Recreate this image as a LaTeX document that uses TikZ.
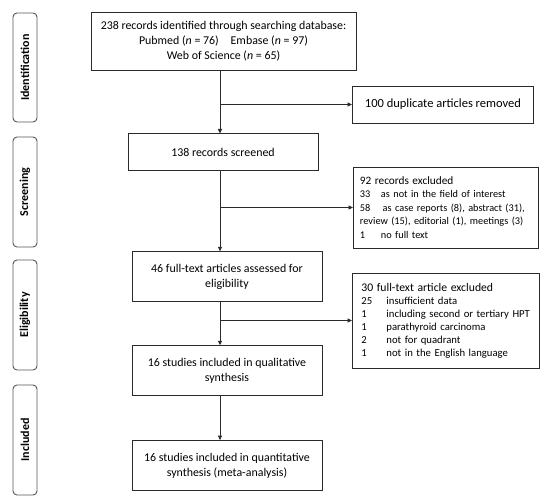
\documentclass[tikz,border=0pt]{standalone}
\usepackage{fontspec}
\setmainfont{Carlito}
\usetikzlibrary{arrows.meta,positioning}
\definecolor{cInk}{HTML}{2B2B2B}
\definecolor{cSide}{HTML}{555555}
\tikzset{
  x=1pt, y=-1pt,
  stage/.style={rounded corners=4pt, draw=cSide, line width=0.9pt, fill=white, minimum width=24pt, inner sep=0pt},
  stagetxt/.style={rotate=90, font=\bfseries\fontsize{12}{14}\selectfont},
  mbox/.style={draw=cInk, line width=0.9pt, fill=white, align=center, inner sep=2pt, minimum width=190pt, minimum height=50pt, font=\fontsize{11.9}{14.8}\selectfont},
  xbox/.style={draw=cInk, line width=0.9pt, fill=white, align=left, inner xsep=6.5pt, text width=#1, font=\fontsize{10.3}{13.5}\selectfont},
  flow/.style={-{Triangle[length=4.5pt,width=4pt]}, line width=0.9pt, draw=cInk},
}
\newcommand{\nr}[2][21pt]{\makebox[#1][l]{#2}}
\begin{document}
\begin{tikzpicture}
\useasboundingbox (0,0) rectangle (550,499);
% stages
\node[stage, minimum height=109pt] (sid) at (25,67.5) {};
\node[stagetxt] at (sid) {Identification};
\node[stage, minimum height=110pt] (ssc) at (25,192) {};
\node[stagetxt] at (ssc) {Screening};
\node[stage, minimum height=110pt] (sel) at (25,315) {};
\node[stagetxt] at (sel) {Eligibility};
\node[stage, minimum height=110pt] (sin) at (25,440) {};
\node[stagetxt] at (sin) {Included};
% main column
\node[mbox, minimum width=265pt, minimum height=58pt] (rec) at (223.5,41) {238 records identified through searching database:\\Pubmed (\textit{n} = 76)\quad Embase (\textit{n} = 97)\\Web of Science (\textit{n} = 65)};
\node[mbox, minimum height=37pt, below=63pt of rec, xshift=-0.5pt] (scr) {138 records screened};
\node[mbox, below=80pt of scr, xshift=4pt] (full) {46 full-text articles assessed for\\eligibility};
\node[mbox, below=43pt of full] (qual) {16 studies included in qualitative\\synthesis};
\node[mbox, below=44pt of qual] (quan) {16 studies included in quantitative\\synthesis (meta-analysis)};
% exclusions
\node[draw=cInk, line width=0.9pt, minimum width=181pt, minimum height=37pt, font=\fontsize{12.5}{14}\selectfont, anchor=west] (dup) at (352,104.5) {100 duplicate articles removed};
\node[xbox=172pt, anchor=west, minimum height=81pt] (ex1) at (353,207.5) {{\fontsize{11.3}{13.5}\selectfont 92 records excluded}\\\nr{33}as not in the field of interest\\\mbox{\nr{58}\,as case reports (8), abstract (31),}\\\mbox{review (15), editorial (1), meetings (3)}\\\nr{1}no full text};
\node[xbox=169pt, inner xsep=9pt, anchor=west, minimum height=95pt, font=\fontsize{10.7}{13}\selectfont] (ex2) at (352,320.5) {{\fontsize{11.7}{13}\selectfont 30 full-text article excluded}\\\nr[25pt]{25}insufficient data\\\nr[25pt]{1}including second or tertiary HPT\\\nr[25pt]{1}parathyroid carcinoma\\\nr[25pt]{2}not for quadrant\\\nr[25pt]{1}not in the English language};
% arrows
\draw[flow] (rec.south -| 220,0) -- (scr.north -| 220,0);
\draw[flow] (scr.south -| 220,0) -- (full.north -| 220,0);
\draw[flow] (full.south -| 220,0) -- (qual.north -| 220,0);
\draw[flow] (qual.south -| 220,0) -- (quan.north -| 220,0);
\draw[flow] (dup.west -| 220,0) -- (dup.west);
\draw[flow] (ex1.west -| 220,0) -- (ex1.west);
\draw[flow] (ex2.west -| 220,0) -- (ex2.west);
\end{tikzpicture}
\end{document}
